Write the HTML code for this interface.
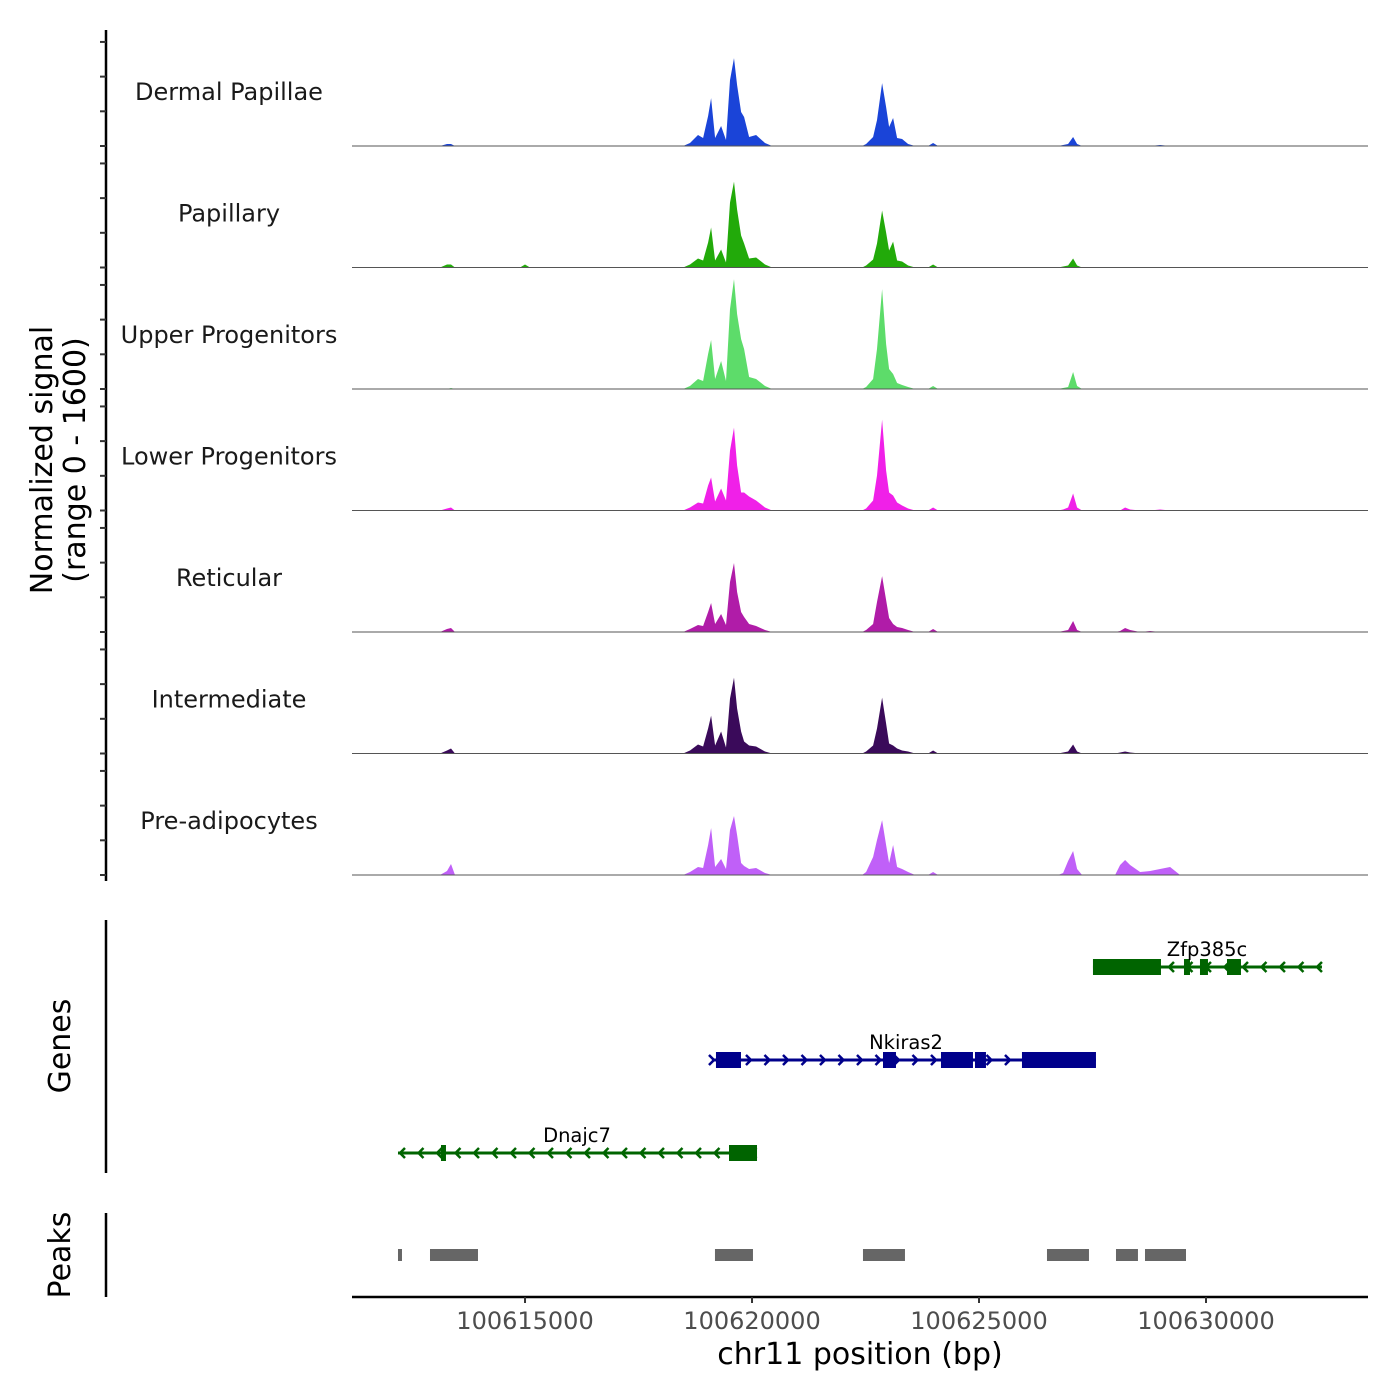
<!DOCTYPE html>
<html><head><meta charset="utf-8"><style>
html,body{margin:0;padding:0;background:#fff;}
svg{display:block;font-family:"DejaVu Sans","Liberation Sans",sans-serif;}
</style></head><body>
<svg id="chart" width="1400" height="1400" viewBox="0 0 1400 1400" xmlns="http://www.w3.org/2000/svg">
<g id="tracks"></g>
<g id="genes"></g>
<g id="peaks"></g>
<g id="axes"></g>
</svg>
<script>
const regionStart = 100611189;
const regionEnd = 100633568;
const xTicks = [100615000, 100620000, 100625000, 100630000];
const trackNames = ["Dermal Papillae","Papillary","Upper Progenitors","Lower Progenitors","Reticular","Intermediate","Pre-adipocytes"];
const trackColors = ["#1a44d8","#22aa0a","#5ddc6a","#f020e8","#b01ca8","#3a0a5a","#c060f8"];
const sigOffsets = [0,1939,2093,2181,2269,3701,3811,3921,7292,7446,7622,7733,7843,7909,7997,8129,8239,8327,8415,8482,8570,8636,8746,8900,9098,9253,11235,11323,11477,11565,11676,11764,11830,11918,12006,12117,12249,12403,12689,12799,12909,15553,15663,15773,15883,15971,16082,16809,16919,17029,17139,17360,17580,17800,18021,18241,22382];
const sigDermal = [0,0,29,29,0,0,0,0,0,43,158,115,432,691,115,288,86,950,1267,878,490,418,130,158,43,0,0,29,130,374,907,562,274,403,115,101,29,0,0,43,0,0,14,29,130,29,0,0,0,0,0,0,0,14,0,0,0];
const sigPapillary = [0,0,43,43,0,0,43,0,0,43,130,101,360,576,101,259,72,936,1238,835,461,346,130,144,43,0,0,29,115,346,821,504,245,374,101,86,29,0,0,43,0,0,14,29,130,29,0,0,0,0,0,0,0,0,0,0,0];
const sigUpper = [0,0,0,14,0,0,0,0,0,43,144,115,504,706,144,403,115,1152,1584,1080,720,576,173,144,43,0,0,29,144,576,1440,648,288,216,86,58,29,0,0,43,0,0,14,29,245,43,0,0,0,0,0,0,0,0,0,0,0];
const sigLower = [0,0,29,43,0,0,0,0,0,43,115,101,360,475,130,317,144,864,1195,648,259,259,202,144,43,0,0,29,144,504,1310,576,259,216,115,72,29,0,0,43,0,0,14,43,245,43,0,0,0,43,14,0,0,14,0,0,0];
const sigReticular = [0,0,43,58,0,0,0,0,0,43,101,86,288,418,115,259,101,720,994,576,288,216,115,86,29,0,0,29,115,432,806,461,202,115,72,58,29,0,0,43,0,0,14,29,158,29,0,0,14,58,29,0,14,0,0,0,0];
const sigIntermediate = [0,0,43,72,0,0,0,0,0,43,130,101,360,547,115,317,86,792,1094,648,317,173,115,101,29,0,0,29,115,360,806,432,144,115,72,43,29,0,0,43,0,0,14,29,130,29,0,0,14,29,14,0,0,0,0,0,0];
const sigPreadipo = [0,0,58,158,0,0,0,0,0,43,115,101,432,677,115,230,86,648,850,576,173,130,86,101,29,0,0,43,259,504,792,432,173,432,115,86,43,0,0,43,0,0,29,202,346,86,0,0,144,216,144,43,58,86,115,0,0];
const geneNames = ["Zfp385c","Nkiras2","Dnajc7"];
const geneStrands = [-1, 1, -1];
const geneColors = ["#006400","#00008b","#006400"];
const geneStarts = [100627510, 100619118, 100612202];
const geneEnds = [100632554, 100627576, 100620110];
const exonsZfp = [[100627510,100629008],[100629515,100629647],[100629867,100630043],[100630462,100630770]];
const exonsNki = [[100619206,100619757],[100622885,100623171],[100624162,100624867],[100624911,100625153],[100625946,100627576]];
const exonsDna = [[100613149,100613259],[100619493,100620110]];
const peakStarts = [100612202,100612907,100619184,100622444,100626497,100628017,100628656];
const peakEnds = [100612290,100613964,100620021,100623369,100627422,100628501,100629559];

const NS="http://www.w3.org/2000/svg";
const X0=352,X1=1368;
const xs = bp => X0 + (bp-regionStart)/(regionEnd-regionStart)*(X1-X0);
const SIGMAX=1600, TRACKPX=111, TRACKSTEP=121.5, BASE0=146;
function mk(tag, attrs, parent){const e=document.createElementNS(NS,tag);for(const k in attrs)e.setAttribute(k,attrs[k]);parent.appendChild(e);return e;}

const tracks=document.getElementById('tracks');
const sigs=[sigDermal,sigPapillary,sigUpper,sigLower,sigReticular,sigIntermediate,sigPreadipo];
sigs.forEach((vals,i)=>{
  const b=BASE0+i*TRACKSTEP;
  const ys=v=>b - v/SIGMAX*TRACKPX;
  let d='M'+xs(regionStart+sigOffsets[0])+','+b;
  vals.forEach((v,j)=>{d+=' L'+xs(regionStart+sigOffsets[j]).toFixed(1)+','+ys(v).toFixed(1);});
  d+=' L'+xs(regionStart+sigOffsets[sigOffsets.length-1])+','+b+' Z';
  const p=mk('path',{d:d,fill:trackColors[i]},tracks);
  
  
  const l=mk('line',{x1:X0,x2:X1,y1:b,y2:b,stroke:'#555','stroke-width':1},tracks);
  
  
  const t=mk('text',{x:229,y:b-46,'text-anchor':'middle','font-size':24,fill:'#1a1a1a'},tracks);
  t.textContent=trackNames[i];
  
  
});

const genes=document.getElementById('genes');
const geneYs=[967,1060,1153];
const labelXs=[1207,906,577];
const exonSets=[exonsZfp,exonsNki,exonsDna];
geneNames.forEach((n,i)=>{
  const y=geneYs[i],c=geneColors[i],x1=xs(geneStarts[i]),x2=xs(geneEnds[i]);
  const g=mk('g',{},genes);
  
  
  mk('line',{x1:x1,x2:x2,y1:y,y2:y,stroke:c,'stroke-width':3},g);
  const s=geneStrands[i];
  for(let x=x1+2;x<=x2-2;x+=18.5){
    const dx=-s*5;
    mk('polyline',{points:(x+dx)+','+(y-5)+' '+x+','+y+' '+(x+dx)+','+(y+5),fill:'none',stroke:c,'stroke-width':2.5},g);
  }
  exonSets[i].forEach(e=>{mk('rect',{x:xs(e[0]),y:y-8,width:xs(e[1])-xs(e[0]),height:16,fill:c},g);});
  const t=mk('text',{x:labelXs[i],y:y-11,'text-anchor':'middle','font-size':19.5,fill:'#000'},g);
  t.textContent=n;
});

const peaks=document.getElementById('peaks');
peakStarts.forEach((s,i)=>{
  const r=mk('rect',{x:xs(s),y:1249,width:xs(peakEnds[i])-xs(s),height:12,fill:'#666'},peaks);
  
  
});

const axes=document.getElementById('axes');
mk('line',{x1:106,x2:106,y1:30,y2:881,stroke:'#000','stroke-width':2.5},axes);
for(let i=0;i<7;i++){const b=BASE0+i*TRACKSTEP;[0,500,1000,1500].forEach(v=>{const y=b-v/SIGMAX*TRACKPX;mk('line',{x1:100,x2:106,y1:y,y2:y,stroke:'#333','stroke-width':2},axes);});}
mk('line',{x1:106,x2:106,y1:920,y2:1173,stroke:'#000','stroke-width':2.5},axes);
mk('line',{x1:106,x2:106,y1:1213,y2:1297,stroke:'#000','stroke-width':2.5},axes);
mk('line',{x1:352,x2:1368,y1:1297,y2:1297,stroke:'#000','stroke-width':2.5},axes);
xTicks.forEach(v=>{
  const x=xs(v);
  mk('line',{x1:x,x2:x,y1:1297,y2:1303,stroke:'#333','stroke-width':2},axes);
  const t=mk('text',{x:x,y:1329,'text-anchor':'middle','font-size':24,fill:'#4d4d4d'},axes);
  t.textContent=v;
  
  
});
</script>
<svg style="position:absolute;left:0;top:0" width="1400" height="1400" font-family="DejaVu Sans, Liberation Sans, sans-serif">
<text x="860" y="1364" text-anchor="middle" font-size="30" fill="#000">chr11 position (bp)</text>
<text transform="translate(52,460) rotate(-90)" text-anchor="middle" font-size="30" fill="#000">Normalized signal</text>
<text transform="translate(85,460) rotate(-90)" text-anchor="middle" font-size="30" fill="#000">(range 0 - 1600)</text>
<text transform="translate(70,1046) rotate(-90)" text-anchor="middle" font-size="30" fill="#000">Genes</text>
<text transform="translate(70,1255) rotate(-90)" text-anchor="middle" font-size="30" fill="#000">Peaks</text>
</svg>
</body></html>
